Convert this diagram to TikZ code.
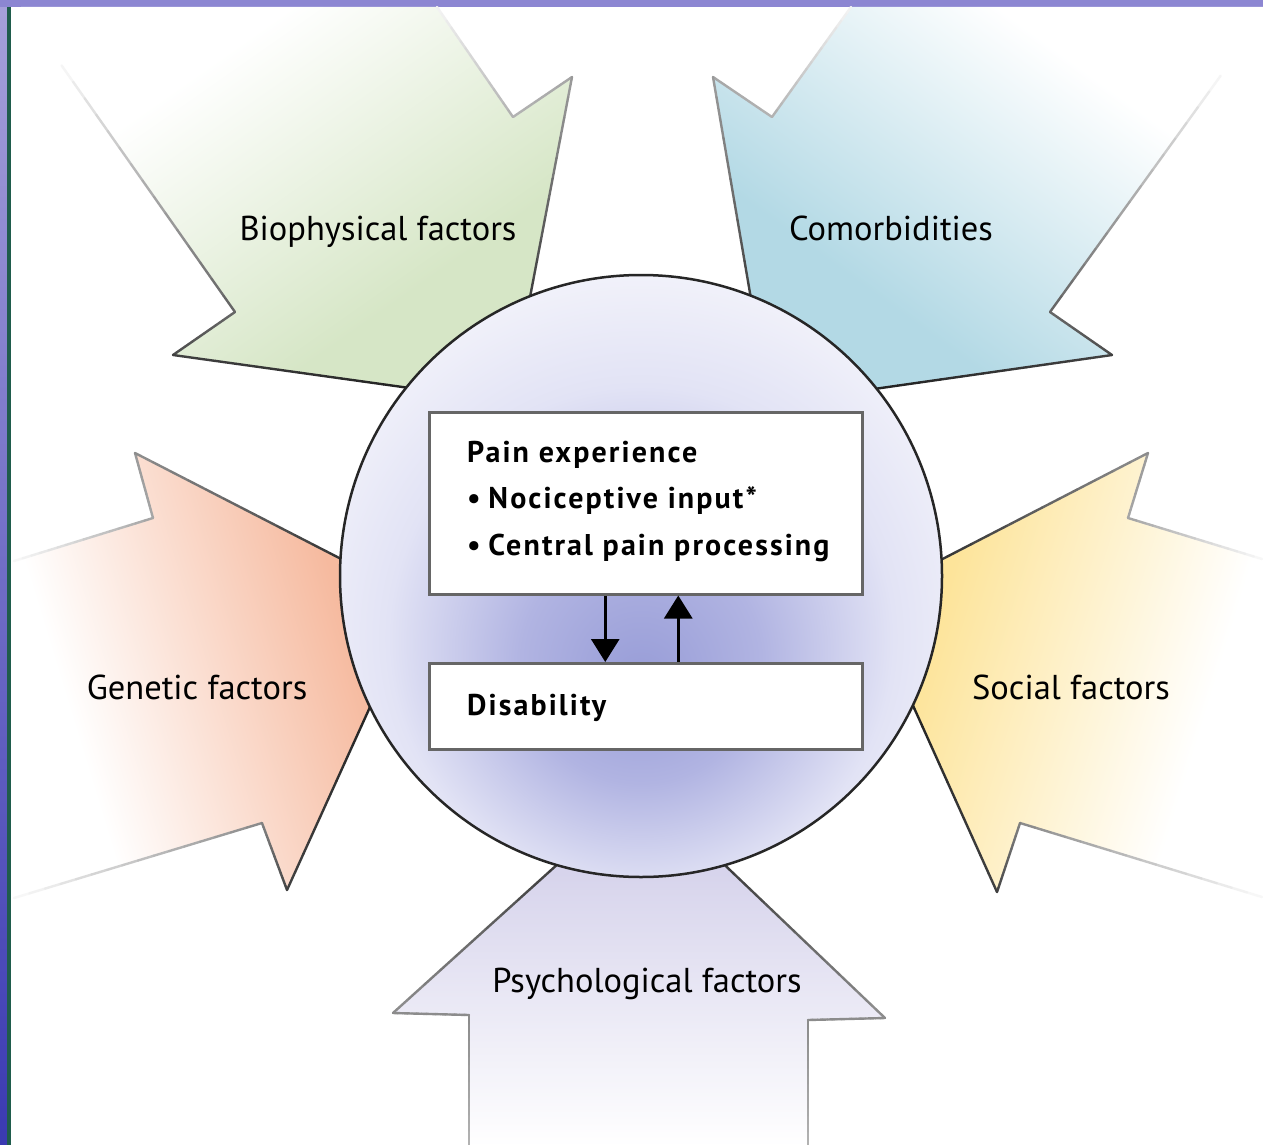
\documentclass[tikz,border=0pt]{standalone}
\usepackage{fontspec}
\setmainfont{PT Sans}
\newfontfamily\boxfont[LetterSpace=7]{PT Sans}
\usetikzlibrary{calc,arrows.meta,shapes.geometric}

\definecolor{frameTop}{HTML}{8C86D2}
\definecolor{frameL1}{HTML}{A6A0DA}
\definecolor{frameL2}{HTML}{3A3AB2}
\definecolor{frameLine}{HTML}{1F5C4C}
\definecolor{gC}{HTML}{D6E6C6}
\definecolor{bC}{HTML}{B3D9E5}
\definecolor{rC}{HTML}{F6BA9F}
\definecolor{yC}{HTML}{FDE49A}
\definecolor{pC}{HTML}{D5D2EB}
\definecolor{hubA}{HTML}{979CD7}
\definecolor{hubB}{HTML}{B1B4E2}
\definecolor{hubC}{HTML}{E2E3F5}
\definecolor{hubD}{HTML}{F7F7FC}
\definecolor{hubE}{HTML}{E9E9F3}

\pgfdeclareverticalshading{gshade}{100bp}{color(0bp)=(gC); color(35bp)=(gC); color(68bp)=(white); color(100bp)=(white)}
\pgfdeclareverticalshading{bshade}{100bp}{color(0bp)=(bC); color(35bp)=(bC); color(68bp)=(white); color(100bp)=(white)}
\pgfdeclareverticalshading{rshade}{100bp}{color(0bp)=(rC); color(33bp)=(rC); color(68bp)=(white); color(100bp)=(white)}
\pgfdeclareverticalshading{yshade}{100bp}{color(0bp)=(yC); color(33bp)=(yC); color(68bp)=(white); color(100bp)=(white)}
\pgfdeclareverticalshading{pshade}{100bp}{color(0bp)=(pC); color(35bp)=(pC); color(75bp)=(white); color(100bp)=(white)}
\pgfdeclareradialshading{hubshade}{\pgfpoint{0bp}{-9bp}}{color(0bp)=(hubA); color(10bp)=(hubB); color(21bp)=(hubC); color(32bp)=(hubD); color(47bp)=(hubD); color(50bp)=(hubE)}

% faded edge: from #1 to #2, percent black from #3 to #4
\newcommand\fseg[4]{%
  \foreach \i in {0,...,15}{%
    \pgfmathtruncatemacro\pc{#3+(#4-#3)*\i/15}%
    \draw[draw=black!\pc, edgeline] ($#1!\i/16!#2$) -- ($#1!{(\i+1)/16}!#2$);
  }}

\tikzset{
  edgeline/.style={line width=2.4pt, line cap=round},
  lab/.style={font=\fontsize{34.5}{40}\selectfont, inner sep=0pt, text=black},
  boxtext/.style={font=\boxfont\bfseries\fontsize{30}{34}\selectfont, inner sep=0pt, anchor=base west},
  panel/.style={draw=black!60, line width=2.5pt, fill=white, inner sep=0pt, anchor=north west, minimum width=433pt},
  flow/.style={line width=3pt, -{Triangle[width=28pt,length=23pt]}},
}

\begin{document}
\begin{tikzpicture}[x=1pt,y=-1pt]
\useasboundingbox (0,0) rectangle (1263,1145);
\fill[white] (0,0) rectangle (1263,1145);

% frame
\shade[top color=frameL1, bottom color=frameL2] (0,0) rectangle (7,1145);
\fill[frameTop] (0,0) rectangle (1263,7);
\fill[frameLine] (7,7) rectangle (11,1145);

% hidden arrow tips
\coordinate (gT) at (510,402);
\coordinate (bT) at (769,404);
\coordinate (rT) at (419,599);
\coordinate (yT) at (865,599);
\coordinate (pT) at (643,787);

% Biophysical (green)
\shade[shading=gshade, shading angle=35] (21,7) -- (235,312) -- (173,355) -- (gT) -- (572,77) -- (513,117) -- (437,7) -- cycle;
\fseg{(50,49)}{(235,312)}{0}{60}
\fseg{(235,312)}{(173,355)}{60}{70}
\fseg{(173,355)}{(gT)}{75}{92}
\fseg{(437,7)}{(513,117)}{5}{30}
\fseg{(513,117)}{(572,77)}{30}{35}
\fseg{(572,77)}{(gT)}{40}{92}

% Comorbidities (blue)
\shade[shading=bshade, shading angle=-36] (851,7) -- (772,117) -- (713,77) -- (bT) -- (1112,355) -- (1050,312) -- (1263,17) -- (1263,7) -- cycle;
\fseg{(1232,60)}{(1050,312)}{0}{60}
\fseg{(1050,312)}{(1112,355)}{60}{70}
\fseg{(1112,355)}{(bT)}{75}{92}
\fseg{(851,7)}{(772,117)}{5}{30}
\fseg{(772,117)}{(713,77)}{30}{35}
\fseg{(713,77)}{(bT)}{40}{92}

% Genetic (red)
\shade[shading=rshade, shading angle=107] (11,562) -- (153,518) -- (135,453) -- (rT) -- (287,890) -- (262,823) -- (11,899) -- cycle;
\fseg{(14,561)}{(153,518)}{3}{35}
\fseg{(153,518)}{(135,453)}{35}{40}
\fseg{(135,453)}{(rT)}{45}{92}
\fseg{(14,898)}{(262,823)}{3}{45}
\fseg{(262,823)}{(287,890)}{50}{72}
\fseg{(287,890)}{(rT)}{75}{92}

% Social (yellow)
\shade[shading=yshade, shading angle=-107] (1263,559) -- (1128,518) -- (1148,453) -- (yT) -- (997,892) -- (1020,823) -- (1263,897) -- cycle;
\fseg{(1262,559)}{(1128,518)}{3}{35}
\fseg{(1128,518)}{(1148,453)}{35}{40}
\fseg{(1148,453)}{(yT)}{45}{92}
\fseg{(1262,897)}{(1020,823)}{3}{45}
\fseg{(1020,823)}{(997,892)}{50}{72}
\fseg{(997,892)}{(yT)}{75}{92}

% Psychological (purple)
\shade[shading=pshade, shading angle=180] (469,1147) -- (469,1015) -- (393,1013) -- (pT) -- (885,1018) -- (808,1020) -- (808,1147) -- cycle;
\fseg{(469,1147)}{(469,1015)}{30}{45}
\fseg{(469,1015)}{(393,1013)}{45}{45}
\fseg{(393,1013)}{(pT)}{45}{92}
\fseg{(808,1147)}{(808,1020)}{30}{45}
\fseg{(808,1020)}{(885,1018)}{45}{45}
\fseg{(885,1018)}{(pT)}{45}{92}

% central circle
\node[circle, shade, shading=hubshade, draw=black!85, line width=2.5pt, minimum size=602pt, inner sep=0pt] (hub) at (641,576) {};

% boxes
\node[panel, minimum height=182pt] (pain) at (428,411) {};
\node[panel, minimum height=86pt] (dis) at (428,662) {};

\draw[flow] ([xshift=-40.5pt]pain.south) -- ([xshift=-40.5pt]dis.north);
\draw[flow] ([xshift=32.5pt]dis.north) -- ([xshift=32.5pt]pain.south);

\node[boxtext] (pe) at (467,462) {Pain experience};
\node[boxtext] (ni) at (467,508) {•\hspace{-2pt} Nociceptive input*};
\node[boxtext] (cp) at (467,555) {•\hspace{-2pt} Central pain processing};
\node[boxtext] (dt) at (467,715) {Disability};

% labels
\node[lab, anchor=base] (lbio) at (378,240) {Biophysical factors};
\node[lab, anchor=base] (lcom) at (891,240) {Comorbidities};
\node[lab, anchor=base] (lgen) at (197,699) {Genetic factors};
\node[lab, anchor=base] (lsoc) at (1071,699) {Social factors};
\node[lab, anchor=base] (lpsy) at (647,992) {Psychological factors};
\end{tikzpicture}
\end{document}
